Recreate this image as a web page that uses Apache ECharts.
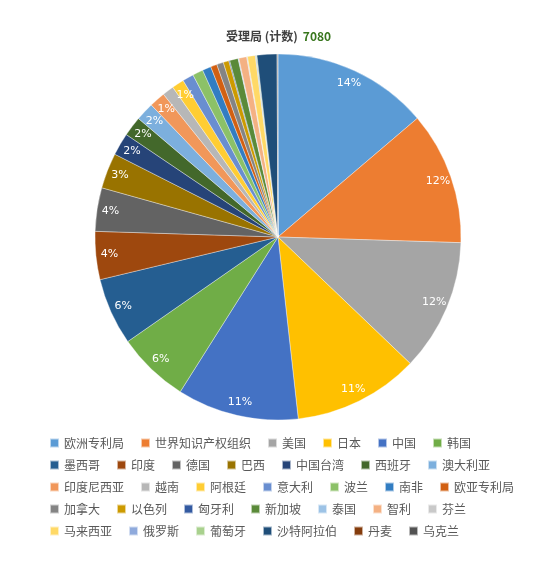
<!DOCTYPE html>
<html><head><meta charset="utf-8">
<script src="https://cdn.jsdelivr.net/npm/echarts@6/dist/echarts.min.js"></script>
<style>html,body{margin:0;padding:0;background:#fff}#c{width:536px;height:576px}</style>
</head><body><div id="c"></div>
<script>
const titleText = '受理局 (计数)';
const totalText = '7080';
const categories = ['欧洲专利局','世界知识产权组织','美国','日本','中国','韩国','墨西哥','印度','德国','巴西','中国台湾','西班牙','澳大利亚','印度尼西亚','越南','阿根廷','意大利','波兰','南非','欧亚专利局','加拿大','以色列','匈牙利','新加坡','泰国','智利','芬兰','马来西亚','俄罗斯','葡萄牙','沙特阿拉伯','丹麦','乌克兰'];
const counts = [975,830,825,785,760,450,420,300,272,222,140,124,115,100,72,76,70,66,54,40,42,35,6,53,5,49,5,49,5,5,124,3,3];
const colors = ['#5B9BD5','#ED7D31','#A5A5A5','#FFC000','#4472C4','#70AD47',
  '#255E91','#9E480E','#636363','#997300','#264478','#43682B',
  '#7CAFDD','#F1975A','#B7B7B7','#FFCD33','#698ED0','#8CC168',
  '#327DC2','#D26012','#848484','#CC9A00','#335AA1','#5A8A39',
  '#9DC3E6','#F4B183','#C9C9C9','#FFD966','#8FAADC','#A9D18E',
  '#1F4E79','#843C0C','#525252'];
const labelCount = 16;

const data = categories.map((n, i) => ({ name: n, value: counts[i] }));
const chart = echarts.init(document.getElementById('c'), null, { renderer: 'canvas' });
chart.setOption({
  animation: false,
  color: colors,
  title: {
    text: '{a|' + titleText + '} {b|' + totalText + '}',
    left: 221, top: 22,
    textStyle: { rich: {
      a: { fontSize: 12, fontWeight: 'bold', color: '#404040', fontFamily: 'Noto Sans CJK SC' },
      b: { fontSize: 12, fontWeight: 'bold', color: '#38761D', fontFamily: 'Noto Sans CJK SC' }
    } }
  },
  legend: {
    data: categories,
    left: 44, top: 432, width: 475,
    itemWidth: 9, itemHeight: 9, itemGap: 10,
    icon: 'rect',
    formatter: name => name + '\u2002',
    textStyle: { fontSize: 12, color: '#595959', fontFamily: 'Noto Sans CJK SC' }
  },
  series: [
    {
      type: 'pie', center: [278, 237], radius: [0, 183],
      startAngle: 90, clockwise: true,
      data: data,
      label: { show: false }, labelLine: { show: false },
      itemStyle: { borderColor: 'rgba(255,255,255,0.6)', borderWidth: 0.6 },
      emphasis: { disabled: true }
    },
    {
      type: 'pie', center: [278, 237], radius: [150, 183],
      startAngle: 90, clockwise: true, silent: true,
      data: data,
      itemStyle: { color: 'rgba(0,0,0,0)', borderWidth: 0 },
      label: {
        show: true, position: 'inside', color: '#fff', fontSize: 11,
        fontFamily: 'DejaVu Sans',
        formatter: p => p.dataIndex < labelCount ? Math.round(p.percent) + '%' : ''
      },
      labelLine: { show: false },
      emphasis: { disabled: true }
    }
  ]
});
</script></body></html>
